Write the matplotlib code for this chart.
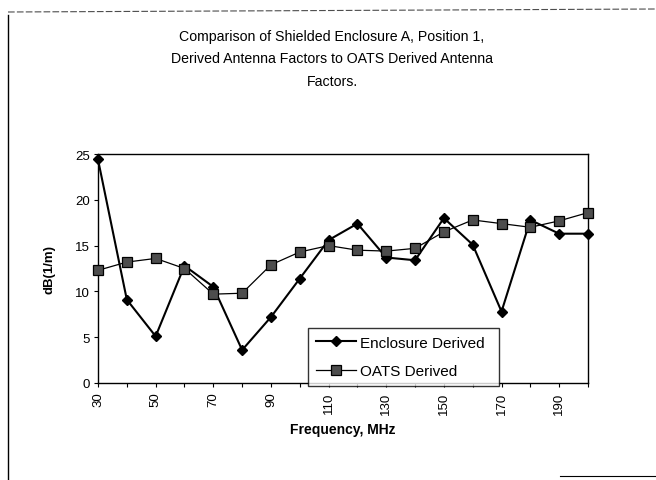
import matplotlib
matplotlib.use("Agg")
import matplotlib.pyplot as plt
from matplotlib.lines import Line2D

plt.rcParams['font.family'] = ['Liberation Sans', 'DejaVu Sans']

freq = [30, 40, 50, 60, 70, 80, 90, 100, 110, 120, 130, 140, 150, 160, 170, 180, 190, 200]
enclosure = [24.4, 9.1, 5.1, 12.8, 10.5, 3.6, 7.2, 11.4, 15.6, 17.4, 13.7, 13.4, 18.0, 15.1, 7.8, 17.8, 16.3, 16.3]
oats = [12.3, 13.2, 13.6, 12.5, 9.7, 9.8, 12.9, 14.3, 15.0, 14.5, 14.4, 14.7, 16.5, 17.8, 17.4, 17.0, 17.7, 18.6]
xtick_labels = [30, 50, 70, 90, 110, 130, 150, 170, 190]
yticks = [0, 5, 10, 15, 20, 25]

title = ("Comparison of Shielded Enclosure A, Position 1,\n"
         "Derived Antenna Factors to OATS Derived Antenna\n"
         "Factors.")

W, H = 656, 481
fig = plt.figure(figsize=(W / 100, H / 100), dpi=100)
ax = fig.add_axes([98 / W, 1 - 384 / H, (588 - 98) / W, (384 - 155) / H])

ax.plot(freq, enclosure, color='black', lw=1.5, marker='D', ms=5,
        mfc='black', mec='black', label='Enclosure Derived', clip_on=False, zorder=3)
ax.plot(freq, oats, color='black', lw=0.9, marker='s', ms=7,
        mfc='0.3', mec='black', mew=0.9, label='OATS Derived', clip_on=False, zorder=3)

ax.set_xlim(30, 200)
ax.set_ylim(0, 25)
ax.set_yticks(yticks)
ax.set_xticks(freq, minor=False)
ax.set_xticklabels([str(f) if f in xtick_labels else '' for f in freq], rotation=90)
ax.tick_params(axis='both', direction='out', length=3, width=0.8, labelsize=9.5, pad=3)
for s in ax.spines.values():
    s.set_linewidth(1.0)

ax.set_xlabel('Frequency, MHz', fontsize=10, fontweight='bold', labelpad=6)
ax.set_ylabel('dB(1/m)', fontsize=9.5, fontweight='bold', labelpad=14)

leg = ax.legend(loc='lower left', bbox_to_anchor=(0.429, -0.013, 0.39, 0.266),
                mode='expand', frameon=True, fancybox=False, fontsize=11,
                handlelength=2.6, borderaxespad=0, labelspacing=0.95,
                handletextpad=0.3, borderpad=0.5)
leg.get_frame().set_edgecolor('black')
leg.get_frame().set_linewidth(1.0)
leg.set_zorder(5)

fig.text(332 / W, 1 - 30 / H, title, ha='center', va='top', fontsize=10.2,
         linespacing=1.75)

# outer frame lines of scanned chart
fig.add_artist(Line2D([8 / W, 8 / W], [0, 1 - 16 / H], color='black', lw=1.0, transform=fig.transFigure))
fig.add_artist(Line2D([8 / W, 1], [1 - 13 / H, 1 - 10 / H], color='0.3', lw=0.8, ls=(0, (6, 2)), transform=fig.transFigure))
fig.add_artist(Line2D([560 / W, 1], [1 - 477 / H, 1 - 477 / H], color='black', lw=0.8, transform=fig.transFigure))

fig.savefig('out.png', dpi=100)
